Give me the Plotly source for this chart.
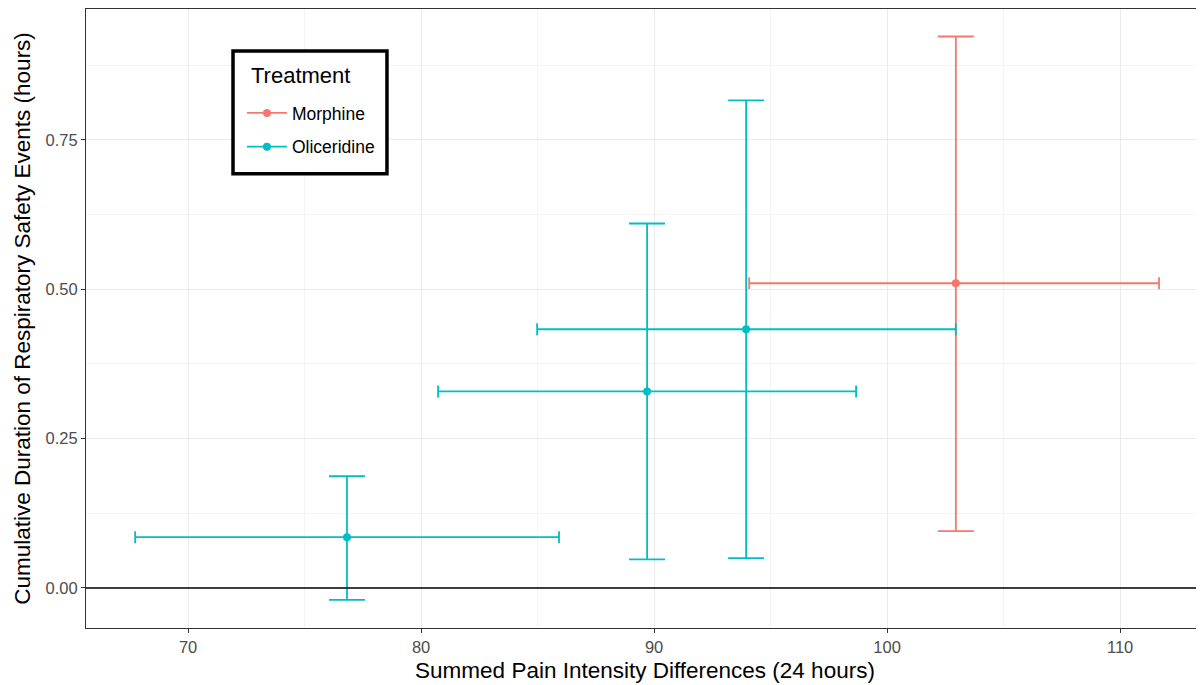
import plotly.graph_objects as go

treatments = ["Oliceridine", "Oliceridine", "Oliceridine", "Morphine"]
spid = [76.82, 89.70, 93.95, 102.95]
spid_lo = [67.73, 80.73, 84.98, 94.08]
spid_hi = [85.92, 98.67, 102.95, 111.67]
resp = [0.085, 0.329, 0.433, 0.510]
resp_lo = [-0.020, 0.048, 0.050, 0.095]
resp_hi = [0.187, 0.610, 0.816, 0.923]

x_ticks = [70, 80, 90, 100, 110]
y_ticks = [0, 0.25, 0.5, 0.75]
y_ticklabels = ["0.00", "0.25", "0.50", "0.75"]

colors = {"Morphine": "#F8766D", "Oliceridine": "#00BFC4"}
FONT = "Liberation Sans, Arial, sans-serif"

fig = go.Figure()
for t in ["Morphine", "Oliceridine"]:
    idx = [i for i, tt in enumerate(treatments) if tt == t]
    xs = [spid[i] for i in idx]
    ys = [resp[i] for i in idx]
    fig.add_trace(go.Scatter(
        x=xs, y=ys, mode="markers", showlegend=False,
        marker=dict(color=colors[t], size=8),
        error_x=dict(type="data", symmetric=False,
                     array=[spid_hi[i] - spid[i] for i in idx],
                     arrayminus=[spid[i] - spid_lo[i] for i in idx],
                     color=colors[t], thickness=1.8, width=6),
        error_y=dict(type="data", symmetric=False,
                     array=[resp_hi[i] - resp[i] for i in idx],
                     arrayminus=[resp[i] - resp_lo[i] for i in idx],
                     color=colors[t], thickness=1.8, width=18),
    ))
    fig.add_trace(go.Scatter(
        x=[None], y=[None], mode="lines+markers", name=t, legendgroup=t,
        line=dict(color=colors[t], width=1.8),
        marker=dict(color=colors[t], size=8),
    ))

fig.add_hline(y=0, line=dict(color="black", width=1.6))

# legend frame and title
fig.add_shape(type="rect", xref="paper", yref="paper",
              x0=0.1315, x1=0.2692, y0=0.7339, y1=0.9323,
              line=dict(color="black", width=3.5), fillcolor="white", layer="above")
fig.add_annotation(xref="paper", yref="paper", x=0.1458, y=0.8919,
                   xanchor="left", yanchor="middle", showarrow=False,
                   text="Treatment", font=dict(family=FONT, size=22, color="black"))

axis_common = dict(
    showgrid=True, gridcolor="#EBEBEB", gridwidth=1,
    ticks="outside", ticklen=4, tickcolor="#333333",
    tickfont=dict(family=FONT, size=16.5, color="#4D4D4D"),
    showline=True, linecolor="#333333", linewidth=1,
    zeroline=False,
)

fig.update_xaxes(
    range=[65.62, 113.6], tickvals=x_ticks, mirror=True,
    minor=dict(tickvals=[65, 75, 85, 95, 105], showgrid=True, gridcolor="#F4F4F4", ticks=""),
    title=dict(text="Summed Pain Intensity Differences (24 hours)",
               font=dict(family=FONT, size=22.5, color="black"), standoff=7),
    **axis_common,
)
fig.update_yaxes(
    range=[-0.067, 0.969], tickvals=y_ticks, ticktext=y_ticklabels, mirror=False,
    minor=dict(tickvals=[0.125, 0.375, 0.625, 0.875], showgrid=True, gridcolor="#F4F4F4", ticks=""),
    title=dict(text="Cumulative Duration of Respiratory Safety Events (hours)",
               font=dict(family=FONT, size=22.5, color="black"), standoff=8),
    **axis_common,
)

fig.update_layout(
    width=1196, height=677,
    margin=dict(l=78, r=0, t=1, b=57, autoexpand=False),
    plot_bgcolor="white", paper_bgcolor="white",
    showlegend=True,
    legend=dict(
        x=0.1395, y=0.861, xanchor="left", yanchor="top",
        bgcolor="rgba(0,0,0,0)", borderwidth=0,
        font=dict(family=FONT, size=17.5, color="black"),
        tracegroupgap=8, itemwidth=40,
    ),
)

fig.write_html("out.html")
